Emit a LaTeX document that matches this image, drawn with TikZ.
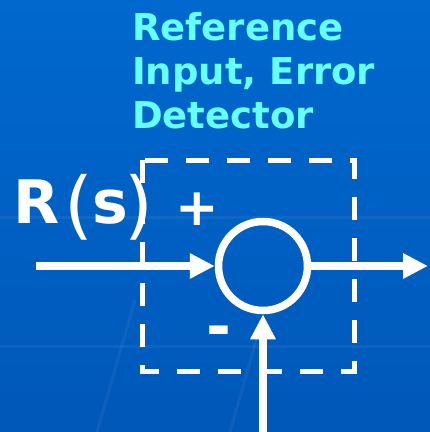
\documentclass[tikz,border=0pt]{standalone}
\usepackage{fontspec}
\setmainfont{DejaVu Sans}
\usetikzlibrary{arrows.meta}
\definecolor{slideblue}{RGB}{0,104,206}
\definecolor{slidebluedark}{RGB}{0,88,184}
\definecolor{titlecyan}{RGB}{102,255,255}
\tikzset{
  signal/.style={white, line width=7.5pt, -{Triangle[length=25pt,width=24pt]}},
  sumjunction/.style={circle, draw=white, line width=7.5pt, minimum size=89pt, inner sep=0pt},
  detectorbox/.style={white, line width=5pt, dash pattern=on 23pt off 18pt},
  streak/.style={white, opacity=0.05, line width=3pt},
}

\begin{document}
\begin{tikzpicture}[x=1pt, y=-1pt]
  % Background
  \shade[top color=slideblue, bottom color=slidebluedark] (0,0) rectangle (430,432);
  \useasboundingbox (0,0) rectangle (430,432);
  \draw[streak] (0,217) -- (430,217);
  \draw[streak] (0,346) -- (430,346);
  \draw[streak] (97,432) -- (135,300);
  \draw[streak] (230,432) -- (262,320);

  % Title
  \node[anchor=base west, inner sep=0pt, text=titlecyan, align=left,
        font=\bfseries\fontsize{37}{44}\selectfont] (title) at (132,128)
        {Reference\\Input, Error\\Detector};

  % Error detector
  \draw[detectorbox] (142,160) rectangle (354,371);
  \node[sumjunction] (sum) at (263,266) {};
  \node[text=white, inner sep=0pt, font=\bfseries\fontsize{52}{52}\selectfont] (plus) at (197,209) {+};
  \node[text=white, inner sep=0pt, font=\bfseries\fontsize{60}{60}\selectfont] (minus) at (219,337) {-};

  % Signals
  \node[anchor=base west, inner sep=0pt, text=white,
        font=\bfseries\fontsize{60}{60}\selectfont] (rs) at (13,223)
        {R\kern5pt\raisebox{-7pt}{\mdseries\fontsize{74}{74}\selectfont(}\kern-1pt s\kern-3pt\raisebox{-7pt}{\mdseries\fontsize{74}{74}\selectfont)}};
  \coordinate (in) at (36,266);
  \coordinate (out) at (428,266);
  \coordinate (fb) at (263,436);
  \draw[signal] (in) -- (sum.west);
  \draw[signal] (sum.east) -- (out);
  \draw[signal] (fb) -- (sum.south);
\end{tikzpicture}
\end{document}
